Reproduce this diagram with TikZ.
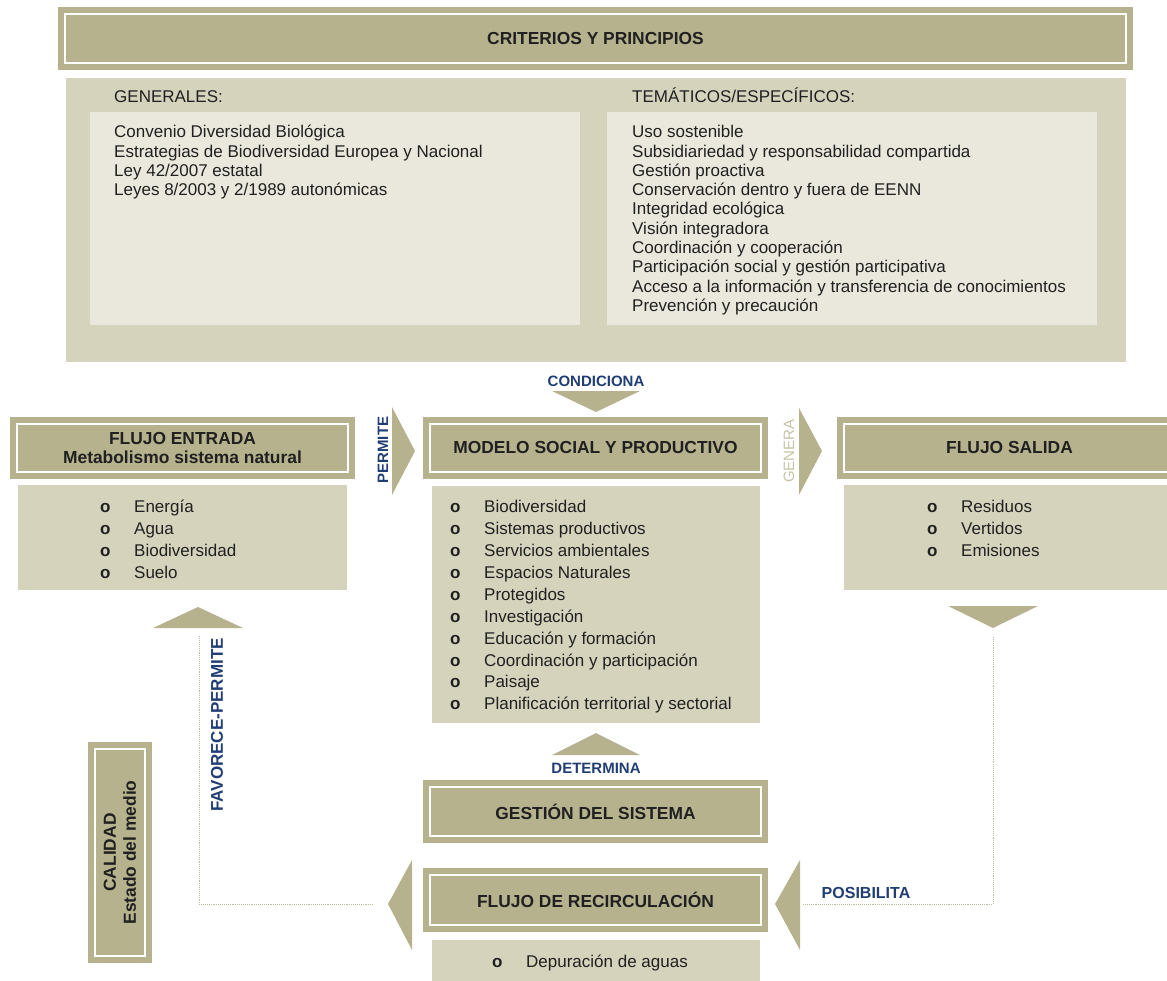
\documentclass[tikz,border=0pt]{standalone}
\usepackage{fontspec}
\setmainfont{Liberation Sans}
\usepackage{tikz}
\usetikzlibrary{positioning, calc}

\definecolor{boxbeige}{RGB}{183,178,142}
\definecolor{panelbeige}{RGB}{214,211,189}
\definecolor{lightbeige}{RGB}{234,232,220}
\definecolor{labelblue}{RGB}{32,62,116}
\definecolor{genbeige}{RGB}{198,194,168}
\definecolor{dotbeige}{RGB}{190,186,160}
\definecolor{inkgray}{RGB}{32,32,32}

\newcommand{\bul}{\makebox[34pt][l]{\fontsize{17}{17}\bfseries o}}

\begin{document}
\begin{tikzpicture}[x=1pt, y=-1pt,
  hdrbox/.style={rectangle, fill=boxbeige, draw=boxbeige, double=white, double distance=2.4pt, line width=5.8pt, outer sep=0pt, inner sep=2pt, text=inkgray, align=center, font=\bfseries\fontsize{17.4}{19}\selectfont},
  panel/.style={rectangle, fill=panelbeige, inner sep=0pt, outer sep=0pt, anchor=north west},
  lightbox/.style={rectangle, fill=lightbeige, inner sep=0pt, outer sep=0pt, anchor=north west},
  crittext/.style={inner sep=0pt, anchor=north west, align=left, text=inkgray, font=\fontsize{17}{19.3}\selectfont},
  listtext/.style={inner sep=0pt, anchor=north west, align=left, text=inkgray, font=\fontsize{17}{21.9}\selectfont},
  lbl/.style={inner sep=0pt, text=labelblue, font=\bfseries\fontsize{15}{15}\selectfont},
  chev/.style={fill=boxbeige},
  link/.style={draw=dotbeige, line width=0.9pt, densely dotted}]
  \useasboundingbox (0,0) rectangle (1167,981);

  \node[hdrbox, minimum width=1061, minimum height=49] (criterios) at (595.5,38.5) {CRITERIOS Y PRINCIPIOS};
  \node[panel, minimum width=1060, minimum height=284] (critpanel) at (66,78) {};
  \node[lightbox, minimum width=490, minimum height=213] (genbox) at (90,112) {};
  \node[lightbox, minimum width=490, minimum height=213] (tembox) at (607,112) {};
  \node[inner sep=0pt, anchor=base west, text=inkgray, font=\fontsize{17}{19}\selectfont] (genlabel) at (114,102.5) {GENERALES:};
  \node[inner sep=0pt, anchor=base west, text=inkgray, font=\fontsize{17}{19}\selectfont] (temlabel) at (632,102.5) {TEMÁTICOS/ESPECÍFICOS:};
  \node[crittext] (genlist) at (114,124) {\strut Convenio Diversidad Biológica\\
    Estrategias de Biodiversidad Europea y Nacional\\ Ley 42/2007 estatal\\ Leyes 8/2003 y 2/1989 autonómicas};
  \node[crittext] (temlist) at (632,124) {\strut Uso sostenible\\ Subsidiariedad y responsabilidad compartida\\
    Gestión proactiva\\ Conservación dentro y fuera de EENN\\ Integridad ecológica\\ Visión integradora\\
    Coordinación y cooperación\\ Participación social y gestión participativa\\
    Acceso a la información y transferencia de conocimientos\\ Prevención y precaución};

  \node[hdrbox, minimum width=331, minimum height=48] (entrada) at (182.5,448) {FLUJO ENTRADA\\Metabolismo sistema natural};
  \node[hdrbox, minimum width=331, minimum height=48] (modelo) at (595.5,448) {MODELO SOCIAL Y PRODUCTIVO};
  \node[hdrbox, minimum width=331, minimum height=48] (salida) at (1009.5,448) {FLUJO SALIDA};
  \node[panel, minimum width=329, minimum height=105] (entradapanel) at (18,485) {};
  \node[panel, minimum width=328, minimum height=237] (modelopanel) at (432,486) {};
  \node[panel, minimum width=340, minimum height=105] (salidapanel) at (844,485) {};
  \node[listtext] (entradalist) at (100,497.2) {\strut\bul Energía\\ \bul Agua\\ \bul Biodiversidad\\ \bul Suelo};
  \node[listtext] (modelolist) at (450,497.2) {\strut\bul Biodiversidad\\ \bul Sistemas productivos\\
    \bul Servicios ambientales\\ \bul Espacios Naturales\\ \bul Protegidos\\ \bul Investigación\\
    \bul Educación y formación\\ \bul Coordinación y participación\\ \bul Paisaje\\
    \bul Planificación territorial y sectorial};
  \node[listtext] (salidalist) at (927,497.2) {\strut\bul Residuos\\ \bul Vertidos\\ \bul Emisiones};

  \node[hdrbox, minimum width=331, minimum height=49] (gestion) at (595.5,811.5) {GESTIÓN DEL SISTEMA};
  \node[hdrbox, minimum width=331, minimum height=50] (recirc) at (595.5,900) {FLUJO DE RECIRCULACIÓN};
  \node[panel, minimum width=328, minimum height=50] (depurpanel) at (432,940) {};
  \node[inner sep=0pt, anchor=base west, text=inkgray, font=\fontsize{17}{19}\selectfont] (depurtext) at (492,967.5) {\bul Depuración de aguas};
  \node[hdrbox, rotate=90, minimum width=207, minimum height=50, font=\bfseries\fontsize{17.4}{20}\selectfont] (calidad) at (120,852.5) {CALIDAD\\Estado del medio};

  \fill[chev] (552,391) -- (640,391) -- (596,412) -- cycle;
  \fill[chev] (392,407) -- (415,451) -- (392,495) -- cycle;
  \fill[chev] (799,408) -- (822,451) -- (799,495) -- cycle;
  \fill[chev] (948,606) -- (1038,606) -- (993,628) -- cycle;
  \fill[chev] (153,628) -- (243,628) -- (198,607) -- cycle;
  \fill[chev] (552,755) -- (640,755) -- (596,733) -- cycle;
  \fill[chev] (412,860) -- (388,904) -- (412,950) -- cycle;
  \fill[chev] (800,860) -- (775,904) -- (800,950) -- cycle;

  \node[lbl] (condiciona) at (596,381) {CONDICIONA};
  \node[lbl, rotate=90] (permite) at (383,450) {PERMITE};
  \node[lbl, rotate=90, text=genbeige, font=\fontsize{15}{15}\selectfont] (genera) at (789,451) {GENERA};
  \node[lbl] (determina) at (596,768) {DETERMINA};
  \node[lbl, font=\bfseries\fontsize{16}{16}\selectfont] (posibilita) at (866,893) {POSIBILITA};
  \node[lbl, rotate=90, font=\bfseries\fontsize{17}{17}\selectfont] (favorece) at (217,725) {FAVORECE-PERMITE};

  \coordinate (fpstart) at (373,904);
  \coordinate (fpend) at (199,636);
  \coordinate (posstart) at (993,637);
  \coordinate (posend) at (803,904);
  \draw[link] (fpstart) -| (fpend);
  \draw[link] (posstart) |- (posend);
\end{tikzpicture}
\end{document}
